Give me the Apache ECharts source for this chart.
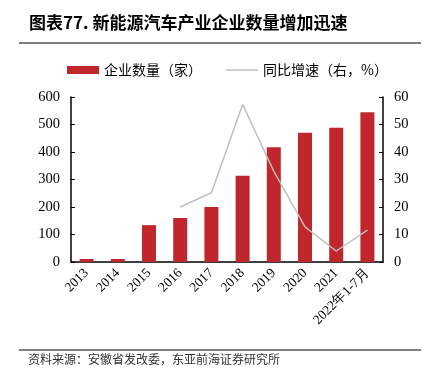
<!DOCTYPE html>
<html><head><meta charset="utf-8">
<script src="https://cdn.jsdelivr.net/npm/echarts@6/dist/echarts.min.js"></script>
<style>html,body{margin:0;padding:0;background:#fff}#c{width:432px;height:377px}</style>
</head><body><div id="c"></div>
<script>
const categories = ['2013','2014','2015','2016','2017','2018','2019','2020','2021','2022年1-7月'];
const companyCount = [11, 11, 134, 160, 200, 314, 417, 470, 488, 545];
const yoyGrowth = [null, null, null, 20, 25.2, 57.3, 33, 12.8, 4, 11.6];
const leftTicks = [0, 100, 200, 300, 400, 500, 600];
const rightTicks = [0, 10, 20, 30, 40, 50, 60];

const serif = '"Liberation Serif","DejaVu Serif",serif';
const cjk = '"Noto Sans CJK SC","Noto Sans CJK JP",sans-serif';
const chart = echarts.init(document.getElementById('c'));
chart.setOption({
  animation: false,
  backgroundColor: '#fff',
  graphic: [
    {type:'text', left: 29, top: 14, style:{text:'图表77. 新能源汽车产业企业数量增加迅速', font:'bold 17px ' + cjk, fill:'#000'}},
    {type:'line', shape:{x1:19,y1:43,x2:421,y2:43}, style:{stroke:'#000', lineWidth:1}},
    {type:'line', shape:{x1:19,y1:350,x2:421,y2:350}, style:{stroke:'#000', lineWidth:1}},
    {type:'text', left: 28, top: 353, style:{text:'资料来源：安徽省发改委，东亚前海证券研究所', font:'12px ' + cjk, fill:'#333'}}
  ],
  legend: {
    top: 58, left: 62, itemGap: 24,
    textStyle:{fontFamily: cjk, fontSize: 14, color:'#000'},
    data: [
      {name:'企业数量（家）', icon:'rect', itemStyle:{color:'#C0272D'}},
      {name:'同比增速（右，%）', icon:'path://M0,0H32V1.5H0Z', itemStyle:{color:'#BFBFBF'}}
    ],
    itemWidth: 32, itemHeight: 8
  },
  grid: {left: 71, right: 49, top: 97, bottom: 115},
  xAxis: {
    type:'category', data: categories,
    axisLine:{lineStyle:{color:'#000', width:1.5}},
    axisTick:{show:false},
    axisLabel:{rotate:45, fontFamily: serif, fontSize: 13.5, color:'#000', margin: 9, interval: 0}
  },
  yAxis: [
    {type:'value', min:0, max:600, interval:100, position:'left',
     axisLine:{show:true, lineStyle:{color:'#000', width:1.5}},
     axisTick:{show:true, inside:true, length:4, lineStyle:{color:'#000'}},
     splitLine:{show:false},
     axisLabel:{fontFamily: serif, fontSize: 14.5, color:'#000', margin: 11}},
    {type:'value', min:0, max:60, interval:10, position:'right',
     axisLine:{show:true, lineStyle:{color:'#000', width:1.5}},
     axisTick:{show:true, inside:true, length:4, lineStyle:{color:'#000'}},
     splitLine:{show:false},
     axisLabel:{fontFamily: serif, fontSize: 14.5, color:'#000', margin: 11}}
  ],
  series: [
    {name:'企业数量（家）', type:'bar', data: companyCount, barWidth: 14,
     itemStyle:{color:'#C0272D'}, yAxisIndex:0},
    {name:'同比增速（右，%）', type:'line', data: yoyGrowth, yAxisIndex:1,
     symbol:'none', lineStyle:{color:'#BFBFBF', width:1.5}, itemStyle:{color:'#BFBFBF'}, connectNulls:false}
  ]
});
</script></body></html>
